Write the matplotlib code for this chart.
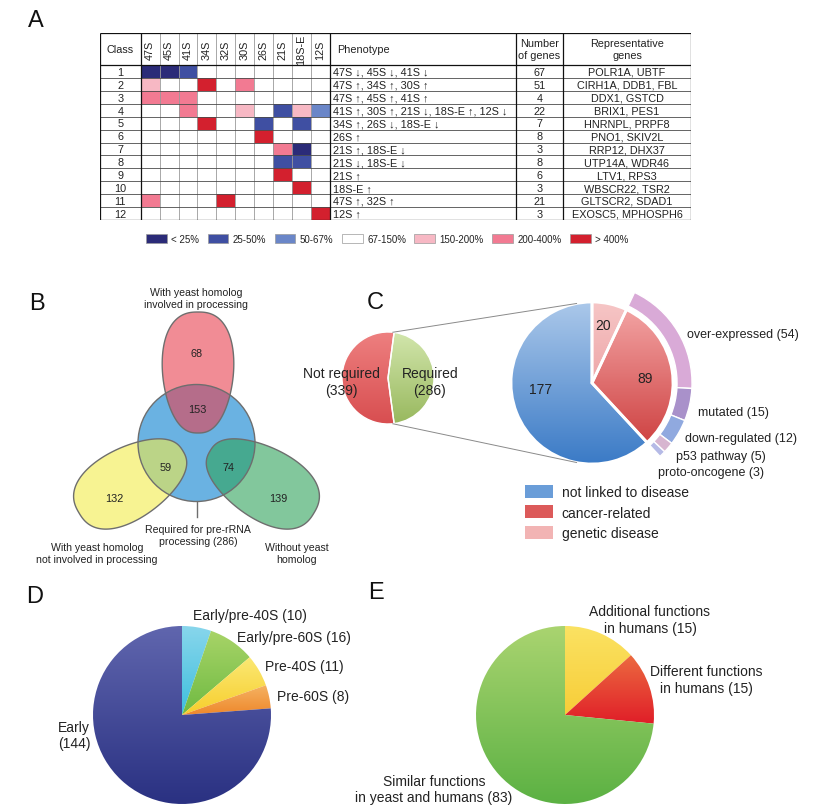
import numpy as np
import matplotlib
matplotlib.use('Agg')
import matplotlib.pyplot as plt
from matplotlib.colors import ListedColormap, LinearSegmentedColormap
from matplotlib.patches import Circle, Polygon, Patch
from matplotlib.legend import Legend

plt.rcParams['font.family'] = ['Liberation Sans', 'DejaVu Sans']

# ---------------- data ----------------
rna_species = ['47S', '45S', '41S', '34S', '32S', '30S', '26S', '21S', '18S-E', '12S']
class_ids = [1, 2, 3, 4, 5, 6, 7, 8, 9, 10, 11, 12]
level_labels = ['< 25%', '25-50%', '50-67%', '67-150%', '150-200%', '200-400%', '> 400%']
level_colors = ['#2B2B78', '#3F4FA2', '#6A86C8', '#FFFFFF', '#F7B8C4', '#F27A92', '#D3202E']
# level index per class (row) and species (column)
level_matrix = [
    [0, 0, 1, 3, 3, 3, 3, 3, 3, 3],
    [4, 3, 3, 6, 3, 5, 3, 3, 3, 3],
    [5, 5, 5, 3, 3, 3, 3, 3, 3, 3],
    [3, 3, 5, 3, 3, 4, 3, 1, 4, 2],
    [3, 3, 3, 6, 3, 3, 1, 3, 1, 3],
    [3, 3, 3, 3, 3, 3, 6, 3, 3, 3],
    [3, 3, 3, 3, 3, 3, 3, 5, 0, 3],
    [3, 3, 3, 3, 3, 3, 3, 1, 1, 3],
    [3, 3, 3, 3, 3, 3, 3, 6, 3, 3],
    [3, 3, 3, 3, 3, 3, 3, 3, 6, 3],
    [5, 3, 3, 3, 6, 3, 3, 3, 3, 3],
    [3, 3, 3, 3, 3, 3, 3, 3, 3, 6],
]
phenotypes = [
    '47S ↓, 45S ↓, 41S ↓',
    '47S ↑, 34S ↑, 30S ↑',
    '47S ↑, 45S ↑, 41S ↑',
    '41S ↑, 30S ↑, 21S ↓, 18S-E ↑, 12S ↓',
    '34S ↑, 26S ↓, 18S-E ↓',
    '26S ↑',
    '21S ↑, 18S-E ↓',
    '21S ↓, 18S-E ↓',
    '21S ↑',
    '18S-E ↑',
    '47S ↑, 32S ↑',
    '12S ↑',
]
gene_counts = [67, 51, 4, 22, 7, 8, 3, 8, 6, 3, 21, 3]
rep_genes = ['POLR1A, UBTF', 'CIRH1A, DDB1, FBL', 'DDX1, GSTCD', 'BRIX1, PES1',
             'HNRNPL, PRPF8', 'PNO1, SKIV2L', 'RRP12, DHX37', 'UTP14A, WDR46',
             'LTV1, RPS3', 'WBSCR22, TSR2', 'GLTSCR2, SDAD1', 'EXOSC5, MPHOSPH6']

venn_set_labels = ['With yeast homolog\ninvolved in processing',
                   'With yeast homolog\nnot involved in processing',
                   'Without yeast\nhomolog',
                   'Required for pre-rRNA\nprocessing (286)']
venn_region_counts = [68, 153, 59, 74, 132, 139]

req_labels = ['Not required', 'Required']
req_values = [339, 286]
disease_labels = ['genetic disease', 'cancer-related', 'not linked to disease']
disease_values = [20, 89, 177]
cancer_labels = ['over-expressed', 'mutated', 'down-regulated', 'p53 pathway', 'proto-oncogene']
cancer_values = [54, 15, 12, 5, 3]

stage_labels = ['Early/pre-40S', 'Early/pre-60S', 'Pre-40S', 'Pre-60S', 'Early']
stage_values = [10, 16, 11, 8, 144]

func_labels = ['Additional functions\nin humans', 'Different functions\nin humans',
               'Similar functions\nin yeast and humans']
func_values = [15, 15, 83]

# ---------------- figure ----------------
W, H = 820, 812
fig = plt.figure(figsize=(W / 100, H / 100), dpi=100)
TXT = '#222222'


def px_axes(x0, y0, x1, y1, **kw):
    return fig.add_axes([x0 / W, 1 - y1 / H, (x1 - x0) / W, (y1 - y0) / H], **kw)


def grad_fill(ax, wedge, top, bottom):
    v = wedge.get_patch_transform().transform(wedge.get_path().vertices)
    x0, x1 = v[:, 0].min(), v[:, 0].max()
    y0, y1 = v[:, 1].min(), v[:, 1].max()
    cmap = LinearSegmentedColormap.from_list('g', [bottom, top])
    im = ax.imshow(np.linspace(0, 1, 128).reshape(-1, 1), extent=(x0, x1, y0, y1),
                   origin='lower', cmap=cmap, aspect='auto', interpolation='bilinear',
                   zorder=wedge.get_zorder() - 0.1)
    im.set_clip_path(wedge)
    wedge.set_facecolor('none')


def pie_axes(cx, cy, r, lim):
    return px_axes(cx - lim * r, cy - lim * r, cx + lim * r, cy + lim * r)


def finish_pie(ax, lim):
    ax.set_xlim(-lim, lim)
    ax.set_ylim(-lim, lim)
    ax.set_aspect('auto')
    ax.axis('off')


# ---------------- Panel A: table ----------------
tx0, tx1, ty0, ty1 = 100, 691, 34, 221
ax_t = px_axes(tx0, ty0, tx1, ty1)
ax_t.set_xlim(tx0, tx1)
ax_t.set_ylim(ty1, ty0)
ax_t.axis('off')
x_class = 140.7
x_pheno = 330.0
x_num = 516.0
x_rep = 563.0
y_head = 66.0
rna_edges = np.linspace(x_class, x_pheno, len(rna_species) + 1)
row_edges = np.linspace(y_head, ty1, len(class_ids) + 1)

cmap_lv = ListedColormap(level_colors)
ax_t.pcolormesh(rna_edges, row_edges, np.array(level_matrix), cmap=cmap_lv,
                vmin=-0.5, vmax=len(level_colors) - 0.5)
ax_t.vlines(rna_edges[1:-1], ty0, ty1, color='#9a9a9a', lw=0.6)
ax_t.hlines(row_edges[1:-1], tx0, tx1, color='#4a4a4a', lw=0.6)
ax_t.hlines([ty0, y_head, ty1], tx0, tx1, color='#111111', lw=0.9)
ax_t.vlines([tx0, x_class, x_pheno, x_num, x_rep, tx1], ty0, ty1, color='#111111', lw=0.9)

fs_t = 7.8
hy = (ty0 + y_head) / 2
ax_t.text((tx0 + x_class) / 2, hy, 'Class', ha='center', va='center', fontsize=fs_t, color=TXT)
for i, name in enumerate(rna_species):
    ax_t.text((rna_edges[i] + rna_edges[i + 1]) / 2, hy, name, rotation=90,
              ha='center', va='center', fontsize=fs_t, color=TXT)
ax_t.text(x_pheno + 7, hy, 'Phenotype', ha='left', va='center', fontsize=fs_t, color=TXT)
ax_t.text((x_num + x_rep) / 2, hy, 'Number\nof genes', ha='center', va='center',
          fontsize=fs_t, color=TXT, linespacing=1.25)
ax_t.text((x_rep + tx1) / 2, hy, 'Representative\ngenes', ha='center', va='center',
          fontsize=fs_t, color=TXT, linespacing=1.25)
for i in range(len(class_ids)):
    yc = (row_edges[i] + row_edges[i + 1]) / 2 + 0.3
    ax_t.text((tx0 + x_class) / 2, yc, str(class_ids[i]), ha='center', va='center', fontsize=fs_t, color=TXT)
    ax_t.text(x_pheno + 3, yc, phenotypes[i], ha='left', va='center', fontsize=fs_t, color=TXT)
    ax_t.text((x_num + x_rep) / 2, yc, str(gene_counts[i]), ha='center', va='center', fontsize=fs_t, color=TXT)
    ax_t.text((x_rep + tx1) / 2, yc, rep_genes[i], ha='center', va='center', fontsize=fs_t, color=TXT)

# ---------------- overlay ----------------
ov = fig.add_axes([0, 0, 1, 1], zorder=5)
ov.set_xlim(0, W)
ov.set_ylim(H, 0)
ov.axis('off')

for letter, (lx, ly) in zip('ABCDE', [(36, 21), (37, 304), (375, 303), (35, 597), (376, 593)]):
    ov.text(lx, ly, letter, fontsize=17, ha='center', va='center', color='#111111')

# table colour legend
lv_handles = [Patch(facecolor=c, edgecolor='#9a9a9a', lw=0.5) for c in level_colors]
leg_a = Legend(ov, lv_handles, level_labels, loc='center left', bbox_to_anchor=(146, 240),
               bbox_transform=ov.transData, ncol=len(level_labels), frameon=False, fontsize=7,
               handlelength=2.15, handleheight=1.05, handletextpad=0.45, columnspacing=0.85,
               borderpad=0, borderaxespad=0)
for t in leg_a.get_texts():
    t.set_color(TXT)
ov.add_artist(leg_a)

# ---------------- Panel B: Venn ----------------
def egg(cx, cy, L, Wd, ang_deg, k=0.12, p=0.8, n=240):
    t = np.linspace(0, 2 * np.pi, n)
    u = L * np.cos(t)
    s = np.sin(t)
    v = Wd * np.sign(s) * np.abs(s) ** p * (1 + k * np.cos(t))
    a = np.deg2rad(ang_deg)
    dx, dy = np.cos(a), -np.sin(a)
    px_, py_ = -dy, dx
    return np.column_stack([cx + u * dx + v * px_, cy + u * dy + v * py_])


edge_c = '#6e6e6e'
circ_c, circ_r = (196.5, 444.0), 58.5
ov.add_patch(Circle(circ_c, circ_r, facecolor='#6AB2E2', edgecolor='none', zorder=1))
egg_specs = [((198, 373.5), 90.0, '#E8404F'),
             ((131, 483), 210.8, '#F2EC4A'),
             ((262, 483), -30.8, '#2FA35A')]
egg_paths = []
for (ecx_, ecy_), ang, col in egg_specs:
    pts = egg(ecx_, ecy_, 60.5, 35.5, ang)
    egg_paths.append(pts)
    ov.add_patch(Polygon(pts, closed=True, facecolor=col, alpha=0.6, edgecolor='none', zorder=2))
ov.add_patch(Circle(circ_c, circ_r, facecolor='none', edgecolor=edge_c, lw=1.0, zorder=3))
for pts in egg_paths:
    ov.add_patch(Polygon(pts, closed=True, facecolor='none', edgecolor=edge_c, lw=1.0, zorder=3))

venn_pos = [(197, 354), (197, 410), (166, 468), (229, 468), (114, 499), (278, 499)]
for (x, y), n in zip(venn_pos, venn_region_counts):
    ov.text(x, y, str(n), ha='center', va='center', fontsize=7.8, color=TXT, zorder=4)
fsB = 7.6
ov.text(196, 299, venn_set_labels[0], ha='center', va='center', fontsize=fsB, color=TXT, linespacing=1.3)
ov.text(97, 554, venn_set_labels[1], ha='center', va='center', fontsize=fsB, color=TXT, linespacing=1.3)
ov.text(297, 554, venn_set_labels[2], ha='center', va='center', fontsize=fsB, color=TXT, linespacing=1.3)
ov.text(198, 536, venn_set_labels[3], ha='center', va='center', fontsize=fsB, color=TXT, linespacing=1.3)
ov.plot([197, 197], [circ_c[1] + circ_r, 518], color=edge_c, lw=1.0, zorder=3)

# ---------------- Panel C ----------------
# small pie
scx, scy, sr = 388, 379, 46
ax_s = pie_axes(scx, scy, sr, 1.05)
red_share = 360 * req_values[0] / sum(req_values)
w_s, _ = ax_s.pie(req_values, startangle=180 - red_share / 2, counterclock=True,
                  colors=['#E06060', '#B8D890'],
                  wedgeprops=dict(edgecolor='white', linewidth=1.0))
grad_fill(ax_s, w_s[0], '#EE8080', '#D84E50')
grad_fill(ax_s, w_s[1], '#D2E6AC', '#98B85E')
finish_pie(ax_s, 1.05)
ov.text(341, 382.5, f'{req_labels[0]}\n({req_values[0]})', ha='center', va='center', fontsize=10, color=TXT)
ov.text(430, 382.5, f'{req_labels[1]}\n({req_values[1]})', ha='center', va='center', fontsize=10, color=TXT)

# big pie
bcx, bcy, br = 592, 384, 81
lim_b = 1.3
ax_b = pie_axes(bcx, bcy, br, lim_b)
w_b, _ = ax_b.pie(disease_values, startangle=90, counterclock=False,
                  colors=['#F2B8B8', '#E06060', '#6A9DD8'],
                  wedgeprops=dict(edgecolor='white', linewidth=2.0))
grad_fill(ax_b, w_b[0], '#F6C6C6', '#EEA6A8')
grad_fill(ax_b, w_b[1], '#F2A2A2', '#CF4444')
grad_fill(ax_b, w_b[2], '#ABC8EA', '#3A7AC6')
ring_colors = ['#D9AAD7', '#A991CA', '#90A9DF', '#D7B5D0', '#B5BAE6']
start_ring = 90 - 360 * disease_values[0] / sum(disease_values)
w_r, _ = ax_b.pie(cancer_values + [sum(disease_values) - disease_values[1]],
                  startangle=start_ring, counterclock=False, radius=1.235,
                  colors=ring_colors + ['none'],
                  wedgeprops=dict(width=0.185, edgecolor='white', linewidth=1.0))
w_r[-1].set_edgecolor('none')
finish_pie(ax_b, lim_b)

# connector lines
for a_s, a_b in [(84, 101), (-84, -101)]:
    xs = scx + sr * np.cos(np.deg2rad(a_s))
    ys = scy - sr * np.sin(np.deg2rad(a_s))
    xb = bcx + br * np.cos(np.deg2rad(a_b))
    yb = bcy - br * np.sin(np.deg2rad(a_b))
    ov.plot([xs, xb], [ys, yb], color='#8a8a8a', lw=0.7)

ov.text(603, 326, str(disease_values[0]), ha='center', va='center', fontsize=10, color=TXT)
ov.text(645, 379, str(disease_values[1]), ha='center', va='center', fontsize=10, color=TXT)
ov.text(541, 390, str(disease_values[2]), ha='center', va='center', fontsize=10, color=TXT)

ring_label_pos = [(687, 335), (698, 413), (685, 439), (676, 457), (658, 473)]
for (x, y), lab, v in zip(ring_label_pos, cancer_labels, cancer_values):
    ov.text(x, y, f'{lab} ({v})', ha='left', va='center', fontsize=9, color=TXT)

c_handles = [Patch(facecolor='#6A9DD8'), Patch(facecolor='#DC5A5A'), Patch(facecolor='#F2B4B4')]
c_labels = [disease_labels[2], disease_labels[1], disease_labels[0]]
leg_c = Legend(ov, c_handles, c_labels, loc='upper left', bbox_to_anchor=(525, 486),
               bbox_transform=ov.transData, frameon=False, fontsize=10,
               handlelength=2.0, handleheight=1.05, handletextpad=0.65, labelspacing=0.45,
               borderpad=0, borderaxespad=0)
for t in leg_c.get_texts():
    t.set_color(TXT)
ov.add_artist(leg_c)

# ---------------- Panel D ----------------
dcx, dcy, dr = 182, 716, 89
ax_d = pie_axes(dcx, dcy, dr, 1.02)
w_d, _ = ax_d.pie(stage_values, startangle=90, counterclock=False,
                  colors=['#5CC8E4', '#8CC856', '#F9DC48', '#F09A3E', '#424B9A'],
                  wedgeprops=dict(linewidth=0))
d_grads = [('#88D6EC', '#3EBEDD'), ('#A8D468', '#6FBA42'), ('#FBE874', '#F7CE2C'),
           ('#F5B262', '#EE882C'), ('#6066AE', '#2A3182')]
for w, (c1, c2) in zip(w_d, d_grads):
    grad_fill(ax_d, w, c1, c2)
finish_pie(ax_d, 1.02)
d_pos = [(193, 616), (237, 638), (265, 667), (277, 697)]
for (x, y), lab, v in zip(d_pos, stage_labels[:4], stage_values[:4]):
    ov.text(x, y, f'{lab} ({v})', ha='left', va='center', fontsize=10, color=TXT)
ov.text(74, 736, f'{stage_labels[4]}\n({stage_values[4]})', ha='center', va='center', fontsize=10, color=TXT)

# ---------------- Panel E ----------------
ecx, ecy, er = 565, 716, 89
ax_e = pie_axes(ecx, ecy, er, 1.02)
w_e, _ = ax_e.pie(func_values, startangle=90, counterclock=False,
                  colors=['#F9D848', '#E43A30', '#86C45A'], wedgeprops=dict(linewidth=0))
e_grads = [('#FBE262', '#F7CD38'), ('#EC6A40', '#E01E28'), ('#AAD470', '#5BB143')]
for w, (c1, c2) in zip(w_e, e_grads):
    grad_fill(ax_e, w, c1, c2)
finish_pie(ax_e, 1.02)
ov.text(650, 620.5, f'{func_labels[0]} ({func_values[0]})', ha='center', va='center', fontsize=10, color=TXT)
ov.text(706, 680.5, f'{func_labels[1]} ({func_values[1]})', ha='center', va='center', fontsize=10, color=TXT)
ov.text(434, 790, f'{func_labels[2]} ({func_values[2]})', ha='center', va='center', fontsize=10, color=TXT)

fig.savefig('out.png', dpi=100, facecolor='white')
